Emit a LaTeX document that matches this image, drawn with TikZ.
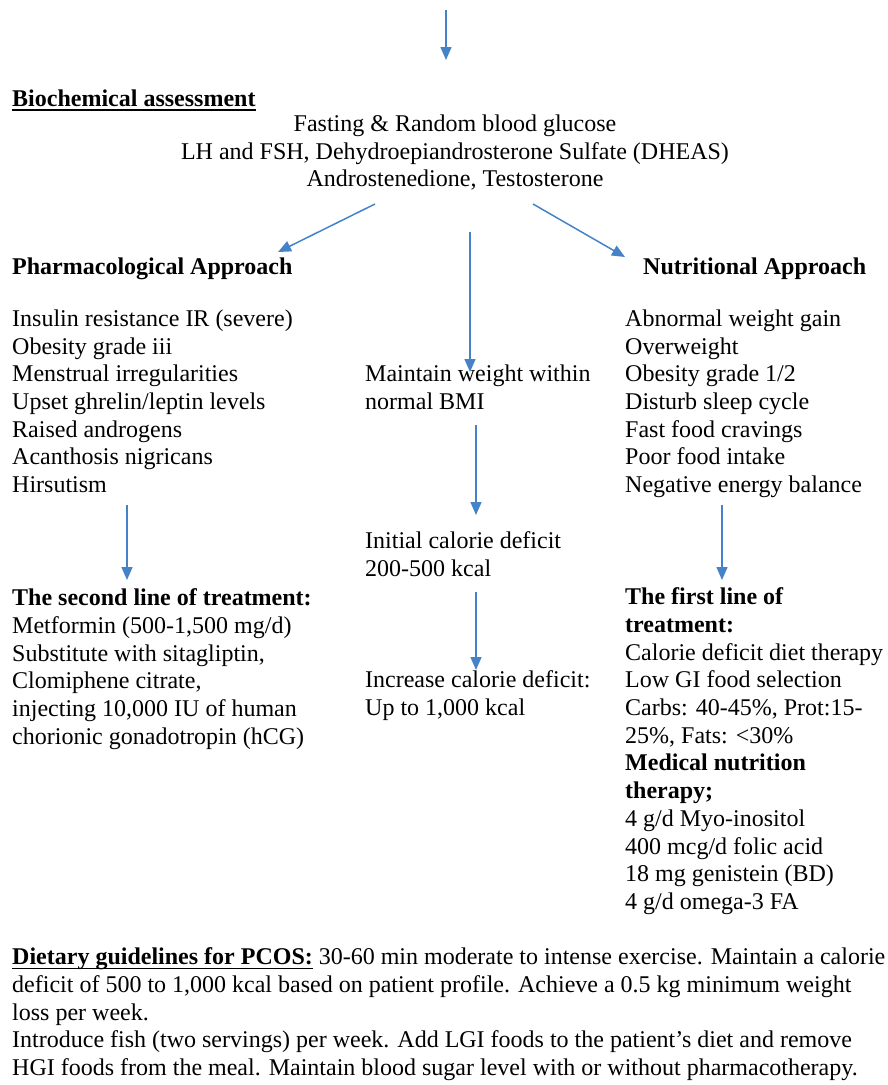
\documentclass[tikz,border=0pt]{standalone}
\usepackage{fontspec}
\setmainfont{Liberation Serif}
\usetikzlibrary{arrows.meta}
\definecolor{arrblue}{RGB}{70,130,200}
\newcommand\myul[1]{\setbox0\hbox{#1}\rlap{\rule[-4.6pt]{\wd0}{1.6pt}}\box0}
\tikzset{
  txt/.style={inner sep=0pt, anchor=north west, yshift=19.39pt, align=left, font=\fontsize{24}{27.7}\selectfont, execute at begin node=\strut},
  ctxt/.style={inner sep=0pt, anchor=north, yshift=19.39pt, align=center, font=\fontsize{24}{27.7}\selectfont, execute at begin node=\strut},
  arr/.style={draw=arrblue, line width=1.5pt, -{Triangle[length=13pt,width=11pt]}}
}
\begin{document}
\begin{tikzpicture}[x=1pt,y=-1pt]
\useasboundingbox (0,0) rectangle (887,1085);
% top
\coordinate (t0) at (446,10);
\coordinate (t1) at (446,60);
\draw[arr] (t0) -- (t1);
\node[txt] (bioh) at (12,106) {\textbf{\myul{Biochemical assessment}}};
\node[ctxt] (bio) at (455,134) {Fasting \& Random blood glucose\\LH and FSH, Dehydroepiandrosterone Sulfate (DHEAS)\\Androstenedione, Testosterone};
% headings
\node[txt] (ph) at (12,274) {\textbf{Pharmacological Approach}};
\node[txt] (nh) at (643,274) {\textbf{Nutritional Approach}};
\coordinate (a1s) at (375,204);
\coordinate (a1e) at (278,252);
\coordinate (a2s) at (533,204);
\coordinate (a2e) at (625,257);
\coordinate (a3s) at (470,232);
\coordinate (a3e) at (470,372);
\draw[arr] (a1s) -- (a1e);
\draw[arr] (a2s) -- (a2e);
\draw[arr] (a3s) -- (a3e);
% left column
\node[txt] (pl) at (12,329) {Insulin resistance IR (severe)\\Obesity grade iii\\Menstrual irregularities\\Upset ghrelin/leptin levels\\Raised androgens\\Acanthosis nigricans\\Hirsutism};
\coordinate (l1s) at (127,505);
\coordinate (l1e) at (127,580);
\draw[arr] (l1s) -- (l1e);
\node[txt] (sl) at (12,608) {\textbf{The second line of treatment:}\\Metformin (500-1,500 mg/d)\\Substitute with sitagliptin,\\Clomiphene citrate,\\injecting 10,000 IU of human\\chorionic gonadotropin (hCG)};
% middle column
\node[txt] (m1) at (365,384) {Maintain weight within\\normal BMI};
\coordinate (m1s) at (476,425);
\coordinate (m1e) at (476,515);
\draw[arr] (m1s) -- (m1e);
\node[txt] (m2) at (365,551) {Initial calorie deficit\\200-500 kcal};
\coordinate (m2s) at (476,592);
\coordinate (m2e) at (476,670);
\draw[arr] (m2s) -- (m2e);
\node[txt] (m3) at (365,690) {Increase calorie deficit:\\Up to 1,000 kcal};
% right column
\node[txt] (nl) at (625,329) {Abnormal weight gain\\Overweight\\Obesity grade 1/2\\Disturb sleep cycle\\Fast food cravings\\Poor food intake\\Negative energy balance};
\coordinate (r1s) at (722,505);
\coordinate (r1e) at (722,580);
\draw[arr] (r1s) -- (r1e);
\node[txt] (fl) at (625,607) {\textbf{The first line of}\\\textbf{treatment:}\\Calorie deficit diet therapy\\Low GI food selection\\Carbs: 40-45\%, Prot:15-\\25\%, Fats: <30\%\\\textbf{Medical nutrition}\\\textbf{therapy;}\\4 g/d Myo-inositol\\400 mcg/d folic acid\\18 mg genistein (BD)\\4 g/d omega-3 FA};
% bottom
\node[txt] (dg) at (12,967) {\textbf{\myul{Dietary guidelines for PCOS:}} 30-60 min moderate to intense exercise. Maintain a calorie\\deficit of 500 to 1,000 kcal based on patient profile. Achieve a 0.5 kg minimum weight\\loss per week.\\Introduce fish (two servings) per week. Add LGI foods to the patient's diet and remove\\HGI foods from the meal. Maintain blood sugar level with or without pharmacotherapy.};
\end{tikzpicture}
\end{document}
